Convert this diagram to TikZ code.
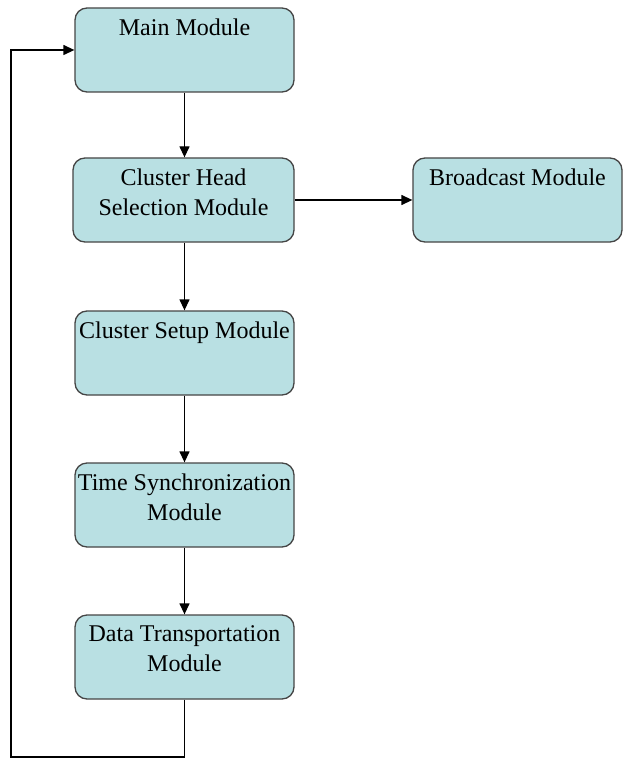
\documentclass[tikz,border=0pt]{standalone}
\usepackage{fontspec}
\setmainfont{Liberation Serif}
\usetikzlibrary{arrows.meta}
\definecolor{boxfill}{HTML}{B9E0E3}
\definecolor{boxline}{HTML}{454545}
\begin{document}
\begin{tikzpicture}[x=1pt,y=-1pt,
  modbox/.style={draw=boxline, line width=1.3pt, fill=boxfill, rounded corners=12pt,
    minimum width=219pt, minimum height=84pt, inner sep=0pt},
  lbl/.style={anchor=north, align=center, inner sep=0pt, yshift=-11pt,
    font=\fontsize{24}{30}\selectfont},
  conn/.style={line width=1.3pt, -{Triangle[length=11pt,width=10pt]}},
  plain/.style={line width=1.3pt}]
\useasboundingbox (0,0) rectangle (624,759);
\node[modbox, label={[lbl]north:Main Module}] (main) at (184.5,50) {};
\node[modbox, minimum width=221pt, label={[lbl]north:Cluster Head\\Selection Module}] (chs) at (183.5,200) {};
\node[modbox, minimum width=209pt, label={[lbl]north:Broadcast Module}] (bc) at (517.5,200) {};
\node[modbox, label={[lbl]north:Cluster Setup Module}] (cs) at (184.5,353) {};
\node[modbox, label={[lbl]north:Time Synchronization\\Module}] (ts) at (184.5,505) {};
\node[modbox, label={[lbl]north:Data Transportation\\Module}] (dt) at (184.5,657) {};
\coordinate (c1) at (184.5,757);
\coordinate (c2) at (11,757);
\coordinate (c3) at (11,50);
\draw[conn] (main.south) -- (main.south |- chs.north);
\draw[conn] (chs) -- (bc);
\draw[conn] (chs.south -| main.south) -- (cs.north);
\draw[conn] (cs) -- (ts);
\draw[conn] (ts) -- (dt);
\draw[conn] (dt.south) -- (c1) -- (c2) -- (c3) -- (main.west);
\end{tikzpicture}
\end{document}
